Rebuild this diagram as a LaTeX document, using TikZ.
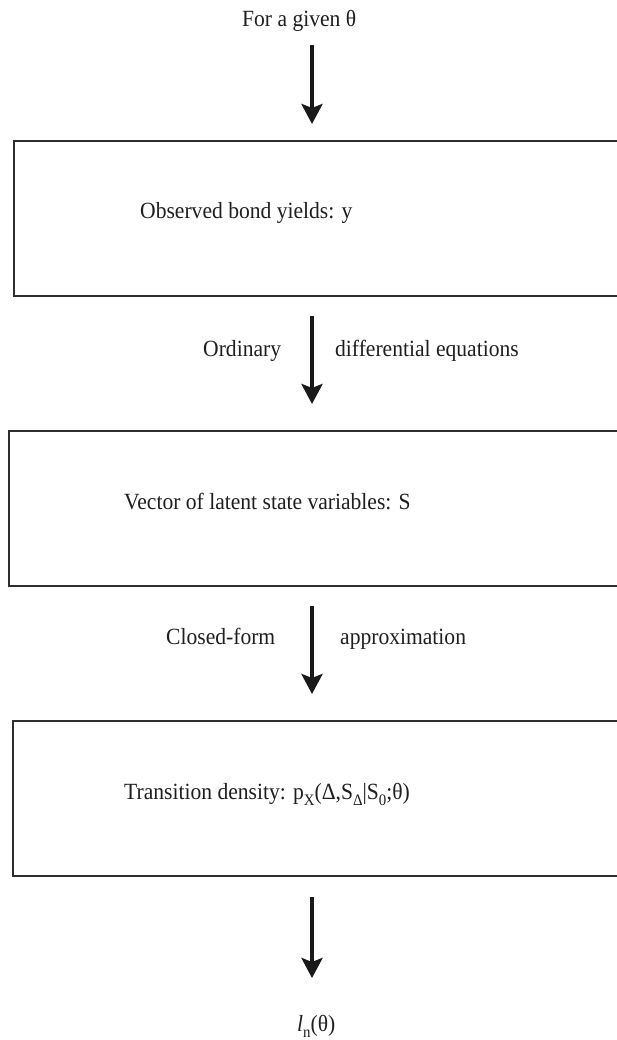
\documentclass[tikz,border=0pt]{standalone}
\usepackage{fontspec}
\setmainfont[FakeStretch=0.93]{Liberation Serif}
\usetikzlibrary{arrows.meta}
\newcommand{\sbs}[1]{\raisebox{-0.26em}{\fontsize{16}{16}\selectfont #1}}
\begin{document}
\begin{tikzpicture}[x=1pt,y=-1pt,
  txt/.style={inner sep=0pt,anchor=base west,font=\fontsize{23.2}{26}\selectfont,text=black!88},
  boxnode/.style={draw=black!82,line width=2.2pt,rectangle,inner sep=0pt},
  arr/.style={line width=4pt,draw=black!90,-{Stealth[length=20pt,width=21pt,inset=4pt]}}]
\useasboundingbox (0,0) rectangle (617,1040);
\clip (0,0) rectangle (617,1040);
\fill[white] (0,0) rectangle (617,1040);
% boxes
\node[boxnode,minimum width=626pt,minimum height=155pt] (b1) at (327,218.5) {};
\node[boxnode,minimum width=631pt,minimum height=155pt] (b2) at (324.5,508.5) {};
\node[boxnode,minimum width=627pt,minimum height=155pt] (b3) at (326.5,798.5) {};
% texts
\node[txt] (t0) at (242,27) {For a given θ};
\node[txt] (l1) at (140,219) {Observed bond yields: y};
\node[txt] (o1) at (203,356) {Ordinary};
\node[txt] (o2) at (335,356) {differential equations};
\node[txt] (l2) at (124,509) {Vector of latent state variables: S};
\node[txt] (c1) at (166,644) {Closed-form};
\node[txt] (c2) at (340,644) {approximation};
\node[txt] (l3) at (124,799) {Transition density: p\sbs{X}(Δ,S\sbs{Δ}|S\sbs{0};θ)};
\node[txt] (ln) at (297,1031) {\textit{l}\sbs{n}(θ)};
% arrow end points
\coordinate (a1s) at (312,45);  \coordinate (a1e) at (312,124);
\coordinate (a2s) at (312,316); \coordinate (a2e) at (312,404);
\coordinate (a3s) at (312,606); \coordinate (a3e) at (312,694);
\coordinate (a4s) at (312,897); \coordinate (a4e) at (312,978);
\draw[arr] (a1s) -- (a1e);
\draw[arr] (a2s) -- (a2e);
\draw[arr] (a3s) -- (a3e);
\draw[arr] (a4s) -- (a4e);
\end{tikzpicture}
\end{document}
